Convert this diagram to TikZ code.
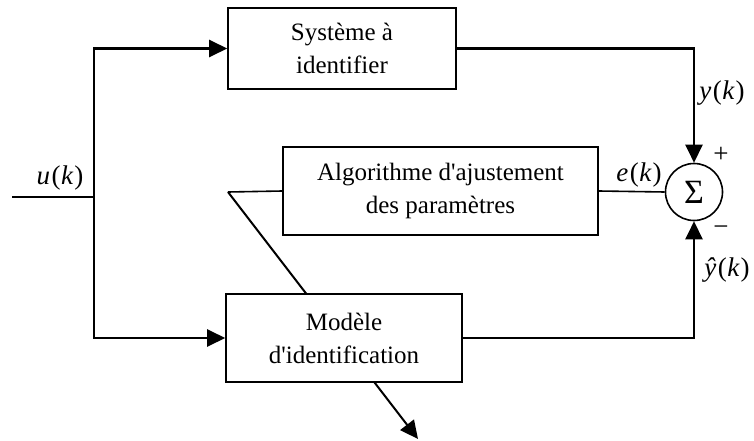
\documentclass[tikz,border=0pt]{standalone}
\usepackage{fontspec}
\setmainfont{Liberation Serif}
\usetikzlibrary{arrows.meta,backgrounds}
\newcommand{\sq}{\textquotesingle}
\newcommand{\sigarg}[1]{\kern1.5pt\textup{(}\kern0.5pt#1\kern1.5pt\textup{)}}
\begin{document}
\begin{tikzpicture}[x=1pt,y=-1pt,
  block/.style={draw,line width=1.6pt,fill=white,minimum width=#1,align=center,
    font=\fontsize{25}{33}\selectfont,inner sep=0pt},
  sig/.style={line width=1.6pt},
  flow/.style={line width=2.4pt,-{Triangle[length=18pt,width=17pt]}},
  lbl/.style={font=\fontsize{27}{30}\selectfont\itshape,inner sep=0pt},
  sgn/.style={font=\fontsize{27}{30}\selectfont,inner sep=0pt}]
\useasboundingbox (0,0) rectangle (754,441);

% blocks
\node[block=228pt,minimum height=81pt] (sys) at (342,48.5) {Système à\\identifier};
\node[block=315pt,minimum height=88pt] (algo) at (440.5,191) {Algorithme d\sq ajustement\\des paramètres};
\node[block=236pt,minimum height=88pt] (model) at (344,338) {Modèle\\d\sq identification};
\node[draw,circle,line width=1.6pt,minimum size=57pt,inner sep=0pt,
  font=\fontsize{34}{38}\selectfont] (sum) at (694,192) {Σ};

% input branch
\coordinate (in) at (12,197);
\coordinate (split) at (94,197);
\draw[sig] (in) -- (split);
\draw[flow] (split) |- (sys.west);
\draw[flow] (split) |- (model.west);

% outputs to the comparator
\draw[flow] (sys.east) -| (sum.north);
\draw[flow] (model.east) -| (sum.south);
\draw[sig] (sum.west) -- (algo.east);

% adjustment arrow crossing the model block
\coordinate (bend) at (228,192);
\coordinate (tip) at (418,439);
\begin{scope}[on background layer]
  \draw[sig] (algo.west) -- (bend);
  \draw[line width=2pt,-{Triangle[length=18pt,width=17pt]}] (bend) -- (tip);
\end{scope}

% labels
\node[lbl] (lu) at (60,178) {u\sigarg{k}};
\node[lbl] (ly) at (722,93) {y\sigarg{k}};
\node[lbl] (le) at (639,175) {e\sigarg{k}};
\node[lbl] (lyh) at (727,270) {ŷ\sigarg{k}};
\node[sgn] (plus) at (721,155) {+};
\node[sgn] (minus) at (721,231) {−};
\end{tikzpicture}
\end{document}
